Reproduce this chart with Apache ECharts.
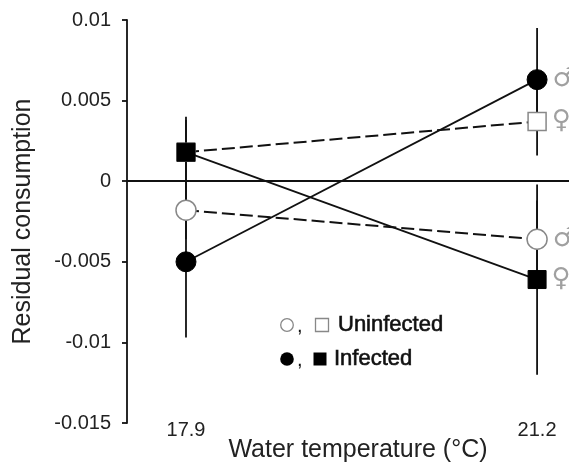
<!DOCTYPE html>
<html>
<head>
<meta charset="utf-8">
<script src="https://cdn.jsdelivr.net/npm/echarts@6/dist/echarts.min.js"></script>
<style>html,body{margin:0;padding:0;background:#fff}#c{width:569px;height:470px}</style>
</head>
<body>
<div id="c"></div>
<script>
const temps = [17.9, 21.2];
const xTickLabels = [17.9, 21.2];
const yTicks = [-0.015, -0.01, -0.005, 0, 0.005, 0.01];
// circles = males, squares = females
const uninfMale = [-0.0018, -0.0036];
const uninfMaleErr = [0.0018, 0.0024];
const uninfFemale = [0.0018, 0.0037];
const uninfFemaleErr = [0.0020, 0.0021];
const infMale = [-0.0050, 0.0063];
const infMaleErr = [0.0047, 0.0032];
const infFemale = [0.0018, -0.0061];
const infFemaleErr = [0.0022, 0.0059];
const legendLabels = ['Uninfected', 'Infected'];

const FONT = '"Liberation Sans", Arial, sans-serif';
const chart = echarts.init(document.getElementById('c'), null, {renderer: 'canvas'});

function pts(vals, sym) {
  return vals.map((v, i) => {
    const item = {value: [temps[i], v]};
    if (i === temps.length - 1) {
      item.label = {show: true, formatter: sym};
    }
    return item;
  });
}
function errData(vals, errs) {
  return vals.map((v, i) => [temps[i], v - errs[i], v + errs[i]]);
}
const allErr = [].concat(
  errData(uninfMale, uninfMaleErr), errData(uninfFemale, uninfFemaleErr),
  errData(infMale, infMaleErr), errData(infFemale, infFemaleErr));

const sexLabel = {position: 'right', distance: 5, color: '#a0a0a0', fontSize: 26, fontFamily: '"DejaVu Sans", sans-serif'};
const LW = 1.8;

function legendRow(y, filled, text) {
  const stroke = filled ? '#000' : '#888';
  const fill = filled ? '#000' : '#fff';
  return {
    type: 'group', z: 10,
    children: [
      {type: 'circle', shape: {cx: 287, cy: y, r: filled ? 6.8 : 6.3},
        style: {fill: fill, stroke: stroke, lineWidth: filled ? 0 : 1.3}},
      {type: 'text', x: 297, y: y + 1,
        style: {text: ',', fontSize: 20, fill: '#111', fontFamily: FONT, verticalAlign: 'middle'}},
      {type: 'rect', shape: {x: filled ? 313.5 : 315.5, y: y - 6.5, width: 13, height: 13},
        style: {fill: fill, stroke: stroke, lineWidth: filled ? 0 : 1.3}},
      {type: 'text', x: filled ? 334 : 338, y: y,
        style: {text: text, fontSize: 22, fill: '#111', fontFamily: FONT, verticalAlign: 'middle',
          stroke: '#111', lineWidth: 0.6}}
    ]
  };
}

chart.setOption({
  animation: false,
  backgroundColor: '#fff',
  grid: {left: 127, right: 0, top: 20, bottom: 47, outerBoundsMode: 'none', containLabel: false},
  xAxis: {
    type: 'value', min: 17.3455, max: 21.5,
    axisLine: {show: false}, axisTick: {show: false}, splitLine: {show: false},
    axisLabel: {customValues: xTickLabels, margin: -3, fontSize: 20, color: '#222', fontFamily: FONT,
      formatter: v => v.toFixed(1)},
    name: 'Water temperature (°C)', nameLocation: 'middle', nameGap: 15, nameMoveOverlap: false,
    nameTextStyle: {fontSize: 25, color: '#222', fontFamily: FONT, padding: [0, 0, 0, 20]}
  },
  yAxis: {
    type: 'value', min: -0.015, max: 0.01, interval: 0.005,
    axisLine: {show: true, lineStyle: {color: '#111', width: LW}},
    axisTick: {show: true, length: 5, lineStyle: {color: '#111', width: LW}},
    splitLine: {show: false},
    axisLabel: {margin: 16, fontSize: 20, color: '#222', fontFamily: FONT,
      formatter: v => String(parseFloat(v.toFixed(4)))},
    name: 'Residual consumption', nameLocation: 'middle', nameGap: 91,
    nameTextStyle: {fontSize: 25, color: '#222', fontFamily: FONT}
  },
  series: [
    {
      type: 'custom', z: 1, silent: true,
      data: allErr,
      encode: {x: 0, y: [1, 2]},
      renderItem: function (params, api) {
        const x = api.value(0);
        const a = api.coord([x, api.value(1)]);
        const b = api.coord([x, api.value(2)]);
        return {type: 'line', shape: {x1: a[0], y1: a[1], x2: b[0], y2: b[1]},
          style: {stroke: '#111', lineWidth: LW}};
      },
      markLine: {
        silent: true, symbol: 'none', label: {show: false},
        lineStyle: {color: '#111', width: LW, type: 'solid'},
        data: [{yAxis: 0}]
      }
    },
    {
      name: 'Uninfected male', type: 'line', z: 3,
      data: pts(uninfMale, '♂'),
      symbol: 'circle', symbolSize: 20,
      lineStyle: {color: '#111', width: 2, type: [13, 5]},
      itemStyle: {color: '#fff', borderColor: '#888', borderWidth: 1.5},
      label: sexLabel
    },
    {
      name: 'Uninfected female', type: 'line', z: 3,
      data: pts(uninfFemale, '♀'),
      symbol: 'rect', symbolSize: 18,
      lineStyle: {color: '#111', width: 2, type: [13, 5]},
      itemStyle: {color: '#fff', borderColor: '#888', borderWidth: 1.5},
      label: sexLabel
    },
    {
      name: 'Infected male', type: 'line', z: 4,
      data: pts(infMale, '♂'),
      symbol: 'circle', symbolSize: 20,
      lineStyle: {color: '#111', width: LW},
      itemStyle: {color: '#000', borderColor: '#000', borderWidth: 1},
      label: sexLabel
    },
    {
      name: 'Infected female', type: 'line', z: 4,
      data: pts(infFemale, '♀'),
      symbol: 'rect', symbolSize: 18,
      lineStyle: {color: '#111', width: LW},
      itemStyle: {color: '#000', borderColor: '#000', borderWidth: 1},
      label: sexLabel
    }
  ],
  graphic: [
    legendRow(325, false, legendLabels[0]),
    legendRow(359, true, legendLabels[1])
  ]
});
</script>
</body>
</html>
